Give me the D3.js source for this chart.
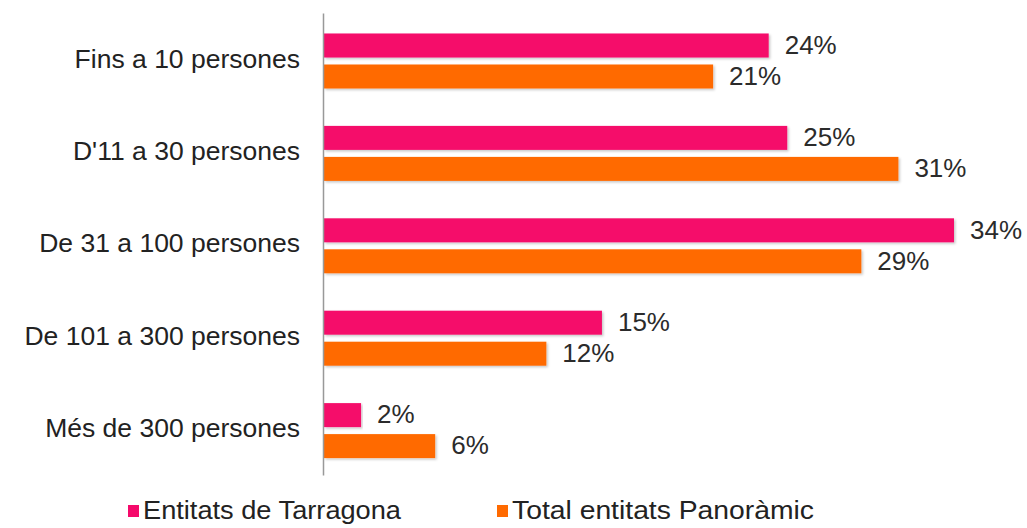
<!DOCTYPE html>
<html><head><meta charset="utf-8">
<script src="https://cdn.jsdelivr.net/npm/d3@7"></script>
<style>body{margin:0;background:#fff;} svg{display:block;}</style>
</head><body>
<svg id="c" width="1027" height="528"></svg>
<script>
const categories = ["Fins a 10 persones","D'11 a 30 persones","De 31 a 100 persones","De 101 a 300 persones","Més de 300 persones"];
const seriesNames = ["Entitats de Tarragona","Total entitats Panoràmic"];
const tarragona = [24,25,34,15,2];
const panoramic = [21,31,29,12,6];
const colors = ["#F50A6B","#FF6A00"];

const svg = d3.select("#c");
const font = "Liberation Sans, Arial, sans-serif";
const x0 = 324;
const x = d3.scaleLinear().domain([0,34]).range([x0, x0 + 630]);
const y = d3.scaleBand().domain(categories).range([13, 475]).paddingInner(0).paddingOuter(0);
const barH = 24, gap = 7;
const series = [tarragona, panoramic];

const defs = svg.append("defs");
const f = defs.append("filter").attr("id","sh").attr("x","-5%").attr("y","-30%").attr("width","110%").attr("height","170%");
f.append("feDropShadow").attr("dx",1.5).attr("dy",1.5).attr("stdDeviation",1.2).attr("flood-color","#000").attr("flood-opacity",0.22);

const g = svg.append("g");
categories.forEach((c,i)=>{
  const top = y(c) + 20.5;
  series.forEach((s,k)=>{
    const yy = top + k*(barH+gap);
    g.append("rect").attr("x", x(0)).attr("y", yy).attr("width", x(s[i])-x(0)).attr("height", barH)
      .attr("fill", colors[k]).attr("filter","url(#sh)");
    g.append("text").attr("x", x(s[i]) + 16).attr("y", yy + barH/2 - 1).attr("dy","0.36em")
      .attr("font-family", font).attr("font-size", 26).attr("fill","#2b2b2b").text(s[i] + "%");
  });
});

// axis
const yAxis = d3.axisLeft(y).tickSize(0).tickPadding(23);
const ax = svg.append("g").attr("transform", `translate(${x0-1},0)`).call(yAxis);
ax.select(".domain").attr("stroke","#999").attr("stroke-width",1.5);
ax.selectAll("text").attr("font-family", font).attr("font-size", 26.5).attr("fill","#222");

// legend
const leg = svg.append("g");
const lx = [128, 497];
seriesNames.forEach((n,k)=>{
  leg.append("rect").attr("x", lx[k]).attr("y", 505).attr("width", 11).attr("height", 12).attr("fill", colors[k]);
  leg.append("text").attr("x", lx[k]+15).attr("y", 510).attr("dy","0.36em")
    .attr("font-family", font).attr("font-size", 25).attr("textLength", k===0 ? 258 : 302)
    .attr("lengthAdjust","spacingAndGlyphs").attr("fill","#222").text(n);
});
</script>
</body></html>
